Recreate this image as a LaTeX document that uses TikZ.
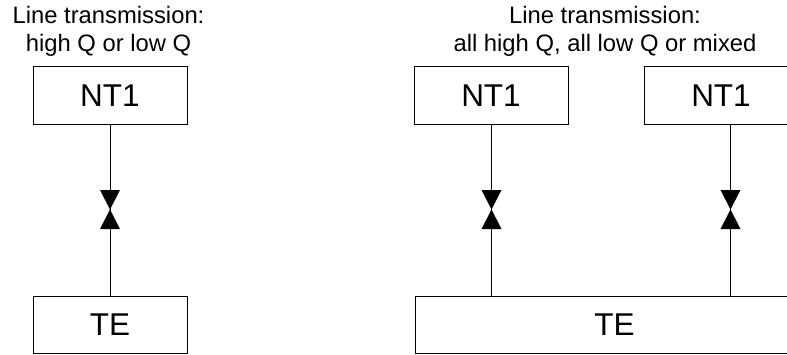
\documentclass[tikz,border=0pt]{standalone}
\usepackage{fontspec}
\setmainfont{Liberation Sans}
\begin{document}
\begin{tikzpicture}[x=1pt,y=1pt,
  box/.style={draw=black,line width=0.9pt,inner sep=0pt,minimum height=58.5pt,
    font=\fontsize{31.5}{36}\selectfont},
  title/.style={align=center,anchor=base,inner sep=0pt,
    font=\fontsize{23.8}{27.5}\selectfont},
  link/.style={draw=black,line width=0.9pt},
  bowtie/.pic={\fill[black] (-10,19.5) -- (10,19.5) -- (-10,-19.5) -- (10,-19.5) -- cycle;}]
\useasboundingbox (0,0) rectangle (787,-354);
% titles
\node[title] (t1) at (108.5,-51) {Line transmission:\\high Q or low Q};
\node[title] (t2) at (605,-51) {Line transmission:\\all high Q, all low Q or mixed};
% left configuration
\node[box,minimum width=154pt] (nt1) at (110,-95.5) {NT1};
\node[box,minimum width=154pt,minimum height=57.5pt] (te1) at (110,-324.75) {TE};
\coordinate (m1) at (110,-209.5);
\draw[link] (nt1.south) -- (te1.north);
\pic at (m1) {bowtie};
% right configuration
\node[box,minimum width=154pt] (nt2) at (491,-95.5) {NT1};
\node[box,minimum width=154pt] (nt3) at (721,-95.5) {NT1};
\node[box,minimum width=399pt,minimum height=57.5pt] (te2) at (614.5,-324.75) {TE};
\coordinate (m2) at (491.5,-209.5);
\coordinate (m3) at (730.5,-209.5);
\draw[link] (nt2.south -| m2) -- (te2.north -| m2);
\draw[link] (nt3.south -| m3) -- (te2.north -| m3);
\pic at (m2) {bowtie};
\pic at (m3) {bowtie};
\end{tikzpicture}
\end{document}
